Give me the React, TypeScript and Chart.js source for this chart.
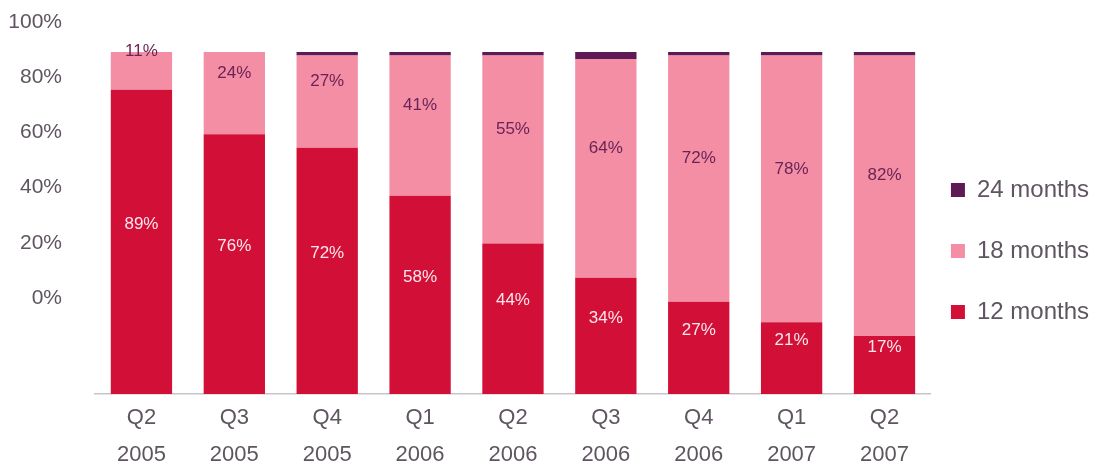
import React, { useEffect, useRef } from "react";
import { Chart, registerables } from "chart.js";

Chart.register(...registerables);

const CATEGORIES: string[][] = [
  ["Q2", "2005"],
  ["Q3", "2005"],
  ["Q4", "2005"],
  ["Q1", "2006"],
  ["Q2", "2006"],
  ["Q3", "2006"],
  ["Q4", "2006"],
  ["Q1", "2007"],
  ["Q2", "2007"],
];
const SERIES_NAMES = ["12 months", "18 months", "24 months"];
const VALUES_12 = [89, 76, 72, 58, 44, 34, 27, 21, 17];
const VALUES_18 = [11, 24, 27, 41, 55, 64, 72, 78, 82];
const VALUES_24 = [0, 0, 1, 1, 1, 2, 1, 1, 1];
const Y_TICKS = [0, 20, 40, 60, 80, 100];

const COLOR_12 = "#d20f36";
const COLOR_18 = "#f38ea5";
const COLOR_24 = "#5d1a55";
const TEXT_COLOR = "#5f5560";
const FONT = "'Liberation Sans', Arial, sans-serif";

const barLabelsPlugin = {
  id: "barLabels",
  afterDatasetsDraw(chart: any, _args: any, opts: any) {
    const ctx = chart.ctx;
    const styles = opts.styles || {};
    chart.data.datasets.forEach((ds: any, di: number) => {
      const st = styles[di];
      if (!st) return;
      const meta = chart.getDatasetMeta(di);
      meta.data.forEach((bar: any, i: number) => {
        const v = ds.data[i];
        if (!v) return;
        const p = bar.getProps(["x", "y", "base"], true);
        const cy = (p.y + p.base) / 2 + (st.offsetY || 0);
        ctx.save();
        ctx.font = `${opts.fontSize}px ${FONT}`;
        ctx.fillStyle = st.color;
        ctx.textAlign = "center";
        ctx.textBaseline = "middle";
        ctx.fillText(v + "%", p.x, cy);
        ctx.restore();
      });
    });
  },
};

export default function App() {
  const canvasRef = useRef<HTMLCanvasElement | null>(null);

  useEffect(() => {
    document.body.style.margin = "0";
    const canvas = canvasRef.current;
    if (!canvas) return;
    const chart = new Chart(canvas, {
      type: "bar",
      data: {
        labels: CATEGORIES,
        datasets: [
          { label: SERIES_NAMES[0], data: VALUES_12, backgroundColor: COLOR_12, borderWidth: 0 },
          { label: SERIES_NAMES[1], data: VALUES_18, backgroundColor: COLOR_18, borderWidth: 0 },
          { label: SERIES_NAMES[2], data: VALUES_24, backgroundColor: COLOR_24, borderWidth: 0 },
        ],
      },
      plugins: [barLabelsPlugin as any],
      options: {
        responsive: false,
        devicePixelRatio: 1,
        animation: false,
        layout: { padding: { top: 22, left: 0, right: 0, bottom: 0 } },
        datasets: {
          bar: { barPercentage: 0.66, categoryPercentage: 1.0 },
        } as any,
        scales: {
          x: {
            stacked: true,
            grid: { display: false, drawTicks: false },
            border: { display: true, color: "#c8c4c8", width: 1.5 },
            ticks: {
              color: TEXT_COLOR,
              padding: 5,
              maxRotation: 0,
              autoSkip: false,
              font: { family: FONT, size: 22, lineHeight: 1.68 },
            },
            afterFit: (scale: any) => {
              scale.height = 75;
            },
          },
          y: {
            stacked: true,
            display: false,
            min: 0,
            max: 108.8,
          },
          y2: {
            position: "left",
            min: -34.7,
            max: 100,
            grid: { display: false, drawTicks: false },
            border: { display: false },
            afterBuildTicks: (scale: any) => {
              scale.ticks = Y_TICKS.map((v) => ({ value: v }));
            },
            ticks: {
              color: TEXT_COLOR,
              padding: 33,
              font: { family: FONT, size: 21 },
              callback: (v: any) => v + "%",
            },
            afterFit: (scale: any) => {
              scale.width = 95;
              scale.paddingTop = 0;
              scale.paddingBottom = 0;
            },
          },
        },
        plugins: {
          tooltip: { enabled: false },
          legend: {
            position: "right",
            align: "start",
            fullSize: false,
            reverse: true,
            title: {
              display: true,
              text: " ",
              padding: { top: 121.6, bottom: 0 },
              font: { size: 12 },
            },
            labels: {
              boxWidth: 14,
              boxHeight: 14,
              padding: 20,
              color: TEXT_COLOR,
              font: { family: FONT, size: 24, lineHeight: 0.854 },
              generateLabels: (c: any) => {
                const items = (Chart.defaults.plugins.legend.labels as any).generateLabels(c);
                return items.map((it: any) => ({
                  ...it,
                  text: [it.text, ""],
                  lineWidth: 0,
                  strokeStyle: "rgba(0,0,0,0)",
                }));
              },
            },
          },
          barLabels: {
            fontSize: 17,
            styles: {
              0: { color: "#fde6ec", offsetY: -18 },
              1: { color: "#6b2455", offsetY: -20 },
            },
          },
        } as any,
      },
    });
    return () => chart.destroy();
  }, []);

  return (
    <div style={{ width: 1099, height: 469 }}>
      <canvas ref={canvasRef} width={1099} height={469} style={{ display: "block" }} />
    </div>
  );
}
